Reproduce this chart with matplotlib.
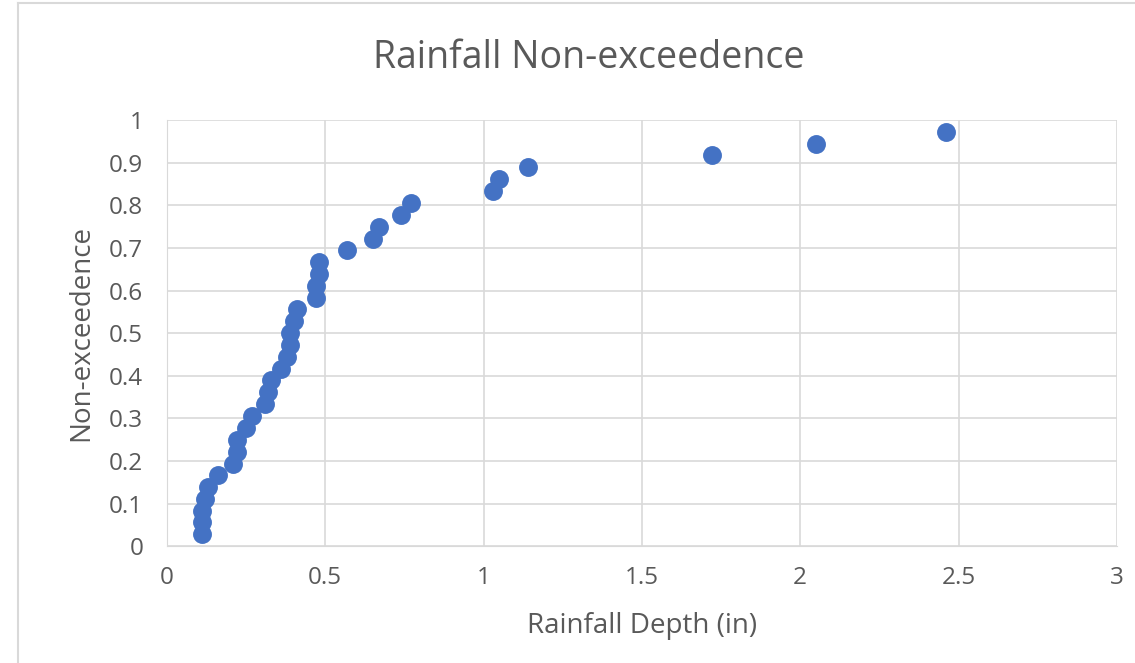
import matplotlib.pyplot as plt
from matplotlib.lines import Line2D

plt.rcParams['font.family'] = ['Open Sans', 'DejaVu Sans']

# Rainfall depth (in) and non-exceedence values
depth = [0.11, 0.11, 0.11, 0.12, 0.13, 0.16, 0.21, 0.22, 0.22, 0.25, 0.27, 0.31,
         0.32, 0.33, 0.36, 0.38, 0.39, 0.39, 0.40, 0.41, 0.47, 0.47, 0.48, 0.48,
         0.57, 0.65, 0.67, 0.74, 0.77, 1.03, 1.05, 1.14, 1.72, 2.05, 2.46]
non_exceed = [0.028, 0.056, 0.083, 0.111, 0.139, 0.167, 0.194, 0.222, 0.250, 0.278,
              0.306, 0.333, 0.361, 0.389, 0.417, 0.444, 0.472, 0.500, 0.528, 0.556,
              0.583, 0.611, 0.639, 0.667, 0.694, 0.722, 0.750, 0.778, 0.806, 0.833,
              0.861, 0.889, 0.917, 0.944, 0.972]

x_ticks = [0, 0.5, 1, 1.5, 2, 2.5, 3]
x_labels = ['0', '0.5', '1', '1.5', '2', '2.5', '3']
y_ticks = [0, 0.1, 0.2, 0.3, 0.4, 0.5, 0.6, 0.7, 0.8, 0.9, 1]
y_labels = ['0', '0.1', '0.2', '0.3', '0.4', '0.5', '0.6', '0.7', '0.8', '0.9', '1']

grey = '#595959'

fig = plt.figure(figsize=(11.35, 6.63), dpi=100)
ax = fig.add_axes([0.147, 0.176, 0.837, 0.643])

ax.scatter(depth, non_exceed, s=185, color='#4472C4', zorder=3, linewidths=0)

ax.set_xlim(0, 3)
ax.set_ylim(0, 1)
ax.set_xticks(x_ticks)
ax.set_xticklabels(x_labels)
ax.set_yticks(y_ticks)
ax.set_yticklabels(y_labels)
ax.grid(True, color='#D9D9D9', linewidth=1.2, zorder=0)
ax.set_axisbelow(True)
for side in ['top', 'right']:
    ax.spines[side].set_visible(False)
ax.spines['left'].set_color('#D9D9D9')
ax.spines['bottom'].set_color('#D9D9D9')
ax.tick_params(length=0, labelsize=17.5, colors=grey)
ax.tick_params(axis='x', pad=14)
ax.tick_params(axis='y', pad=17)

ax.set_xlabel('Rainfall Depth (in)', fontsize=20, color=grey)
ax.set_ylabel('Non-exceedence', fontsize=20, color=grey)
ax.xaxis.set_label_coords(0.5, -0.155)
ax.yaxis.set_label_coords(-0.075, 0.5)

fig.text(0.519, 0.912, 'Rainfall Non-exceedence', fontsize=27, color=grey,
         ha='center', va='center')

# chart area border (left and top edges visible in the crop)
fig.add_artist(Line2D([18 / 1135, 18 / 1135], [0, 1 - 3 / 663], transform=fig.transFigure,
                      color='#D9D9D9', linewidth=1.5))
fig.add_artist(Line2D([18 / 1135, 1], [1 - 3 / 663, 1 - 3 / 663], transform=fig.transFigure,
                      color='#D9D9D9', linewidth=1.5))

fig.savefig('out.png', dpi=100)
